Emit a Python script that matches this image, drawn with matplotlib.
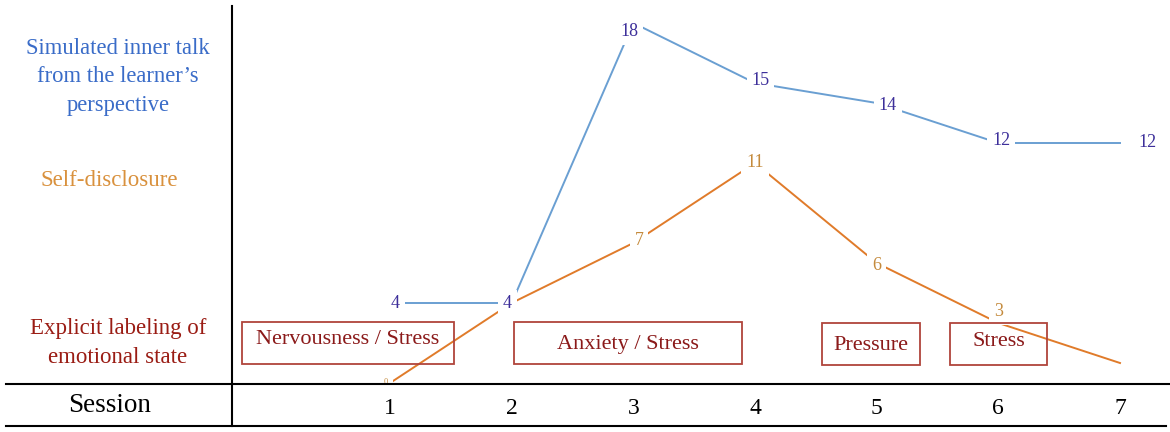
import numpy as np
import matplotlib.pyplot as plt
from matplotlib.patches import Rectangle

sessions = [1, 2, 3, 4, 5, 6, 7]
inner_talk = [4, 4, 18, 15, 14, 12, 12]
self_disc = [0, 4, 7, 11, 6, 3, 1]
emotion_labels = ["Nervousness / Stress", "Anxiety / Stress", "Pressure", "Stress"]

W, H = 1170, 432
plt.rcParams['font.family'] = ['Liberation Serif', 'DejaVu Serif']

fig = plt.figure(figsize=(W / 100, H / 100), dpi=100)
ax = fig.add_axes([0, 0, 1, 1])
# session 1 at x=390px, session 7 at x=1120px ; value 0 at y=383px, 20px per unit
step = (1120 - 390) / 6
ax.set_xlim(1 - 390 / step, 1 + (W - 390) / step)
ax.set_ylim(-(H - 383) / 20, 383 / 20)
ax.axis('off')


def px(x, y):
    # pixel (from top-left) -> figure fraction
    return x / W, 1 - y / H


blue_line = '#6a9fd2'
blue_txt = '#3d2f9a'
orange_line = '#e07b2a'
orange_txt = '#c48a3c'
red_txt = '#8b1a1a'
red_box = '#b0443c'

ax.plot(sessions, inner_talk, color=blue_line, lw=1.4, zorder=1)
ax.plot(sessions, self_disc, color=orange_line, lw=1.4, zorder=1)

bb = dict(facecolor='white', edgecolor='none', pad=3.5)
blue_off = [(4, 0), (-3, 0), (-3, -6), (4, 2), (8, -2), (2, 2), (20, 0)]
for s, v, o in zip(sessions, inner_talk, blue_off):
    ax.annotate(str(v), (s, v), xytext=o, textcoords='offset points',
                ha='center', va='center', fontsize=13, color=blue_txt,
                bbox=bb, zorder=3)

orange_off = [(-3, 1), None, (4, 2), (0, 0), (0, -2), (0, 8), None]
for s, v, o in zip(sessions, self_disc, orange_off):
    if o is None:
        continue
    fs = 6 if v == 0 else 13
    ax.annotate(str(v), (s, v), xytext=o, textcoords='offset points',
                ha='center', va='center', fontsize=fs, color=orange_txt,
                bbox=bb, zorder=3)

# emotion boxes
boxes = [(242, 322, 454, 364), (514, 322, 742, 364), (822, 323, 920, 365), (950, 323, 1047, 365)]
text_y = [340, 344, 345, 341]
for lab, (x0, y0, x1, y1), ty in zip(emotion_labels, boxes, text_y):
    fx0, fy1 = px(x0, y1)
    fx1, fy0 = px(x1, y0)
    fig.patches.append(Rectangle((fx0, fy1), fx1 - fx0, fy0 - fy1, transform=fig.transFigure,
                                 fill=False, edgecolor=red_box, lw=1.3, zorder=2))
    tx, tyf = px((x0 + x1) / 2, ty)
    fig.text(tx, tyf, lab, ha='center', va='center', fontsize=16, color=red_txt)

# frame lines
fig.add_artist(plt.Line2D([px(232, 0)[0]] * 2, [px(0, 6)[1], px(0, 426)[1]], color='black', lw=1.5))
fig.add_artist(plt.Line2D([px(6, 0)[0], 1], [px(0, 384)[1]] * 2, color='black', lw=1.5))
fig.add_artist(plt.Line2D([px(6, 0)[0], px(1166, 0)[0]], [px(0, 426)[1]] * 2, color='black', lw=1.5))

# left side labels
fig.text(*px(118, 77), "Simulated inner talk\nfrom the learner\u2019s\nperspective", ha='center',
         va='center', fontsize=16.3, color='#3a6cc8', linespacing=1.45)
fig.text(*px(109, 181), "Self-disclosure", ha='center', va='center', fontsize=16.5, color='#d9913d')
fig.text(*px(118, 343), "Explicit labeling of\nemotional state", ha='center', va='center',
         fontsize=16.5, color='#9a1c14', linespacing=1.45)
fig.text(*px(110, 405), "Session", ha='center', va='center', fontsize=19.5, color='black')

# session tick labels
for s in sessions:
    ax.text(s, -1.25, str(s), ha='center', va='center', fontsize=17, color='black')

fig.savefig('out.png', dpi=100)
